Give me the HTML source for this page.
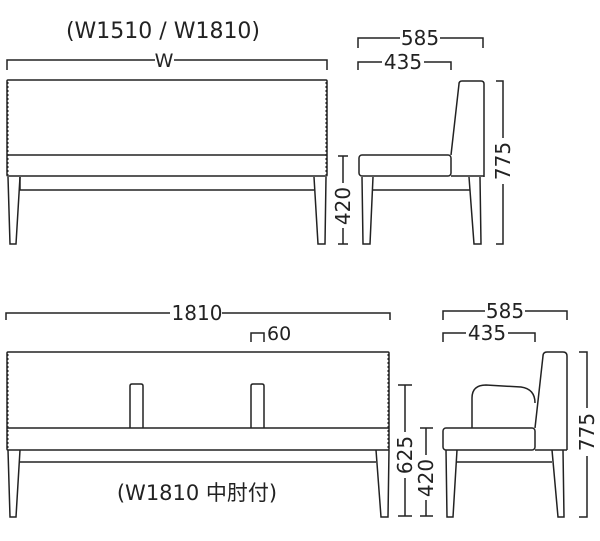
<!DOCTYPE html>
<html><head><meta charset="utf-8"><style>
html,body{margin:0;padding:0;background:#fff;width:600px;height:541px;overflow:hidden}
svg text{font-family:"DejaVu Sans","Liberation Sans","Noto Sans CJK JP",sans-serif;fill:#222}
</style></head><body>
<svg width="600" height="541" viewBox="0 0 600 541" xmlns="http://www.w3.org/2000/svg">
<g fill="none" stroke="#222" stroke-width="1.5">
<path d="M7,70 V60 H155 M174,60 H327 V70"/>
<rect x="7" y="80" width="320" height="96" rx="1"/>
<line x1="7" y1="155" x2="327" y2="155"/>
<path d="M8,177 L10,244 H16 L20,177"/>
<path d="M314,177 L318,244 H325 L326,177"/>
<path d="M20,177 V190 H314"/>
<path d="M358,48 V38 H400 M440,38 H483 V48"/>
<path d="M358,70 V62 H382 M424,62 H451 V70"/>
<path d="M451,155 L459,84 Q459,81 462,81 H481 Q484,81 484,84 V177"/>
<rect x="359" y="155" width="92" height="21" rx="3"/>
<path d="M451,176 H484"/>
<path d="M362,177 L363,244 H370 L373,177"/>
<path d="M469,177 L474,244 H481 L480,177"/>
<path d="M373,190 H470"/>
<path d="M496,81 H503 V138 M503,184 V244 H496"/>
<path d="M338,156 H348 M343,156 V183 M343,228 V244 M338,244 H348"/>
<path d="M6,320 V313 H170 M222,313 H390 V320"/>
<path d="M251,342 V333 H264 V342"/>
<rect x="7" y="352" width="382" height="98" rx="1"/>
<line x1="7" y1="428" x2="389" y2="428"/>
<path d="M130,428 V386 Q130,384 132,384 H141 Q143,384 143,386 V428"/>
<path d="M251,428 V386 Q251,384 253,384 H262 Q264,384 264,386 V428"/>
<path d="M8,450 L10,517 H16 L20,450"/>
<path d="M376,450 L381,517 H388 L389,450"/>
<path d="M20,462 H376"/>
<path d="M443,320 V311 H485 M525,311 H567 V320"/>
<path d="M443,342 V333 H466 M508,333 H535 V342"/>
<path d="M535,428 L543,356 Q543,352 547,352 H563 Q567,352 567,356 V450"/>
<rect x="443" y="428" width="92" height="22" rx="3"/>
<path d="M535,450 H567"/>
<path d="M472,428 V398 Q472,385 486,385 L521,387 Q535,389 535,403"/>
<path d="M446,450 L447,517 H453 L457,450"/>
<path d="M552,450 L558,517 H564 L563,450"/>
<path d="M457,462 H552"/>
<path d="M579,352 H587 V408 M587,456 V517 H579"/>
<path d="M398,385 H412 M405,385 V432 M405,478 V516 M398,516 H412"/>
<path d="M420,428 H433 M426,428 V455 M426,500 V516 M420,516 H433"/>
</g>
<g stroke="#222" stroke-width="1" stroke-dasharray="2,2" fill="none">
<line x1="8" y1="82" x2="8" y2="175"/><line x1="326" y1="82" x2="326" y2="175"/>
<line x1="8" y1="354" x2="8" y2="449"/><line x1="388" y1="354" x2="388" y2="449"/>
</g>
<text x="163" y="38" font-size="22" text-anchor="middle">(W1510 / W1810)</text>
<text x="164" y="67" font-size="19" text-anchor="middle">W</text>
<text x="420" y="45" font-size="20" text-anchor="middle">585</text>
<text x="403" y="69" font-size="20" text-anchor="middle">435</text>
<text x="197" y="320" font-size="20" text-anchor="middle">1810</text>
<text x="267" y="340" font-size="19">60</text>
<text x="505" y="318" font-size="20" text-anchor="middle">585</text>
<text x="487" y="340" font-size="20" text-anchor="middle">435</text>
<text x="197" y="500" font-size="21" text-anchor="middle">(W1810 中肘付)</text>
<text transform="translate(510,161) rotate(-90)" font-size="20" text-anchor="middle">775</text>
<text transform="translate(350,206) rotate(-90)" font-size="20" text-anchor="middle">420</text>
<text transform="translate(594,432) rotate(-90)" font-size="20" text-anchor="middle">775</text>
<text transform="translate(412,455) rotate(-90)" font-size="20" text-anchor="middle">625</text>
<text transform="translate(433,478) rotate(-90)" font-size="20" text-anchor="middle">420</text>
</svg>
</body></html>
